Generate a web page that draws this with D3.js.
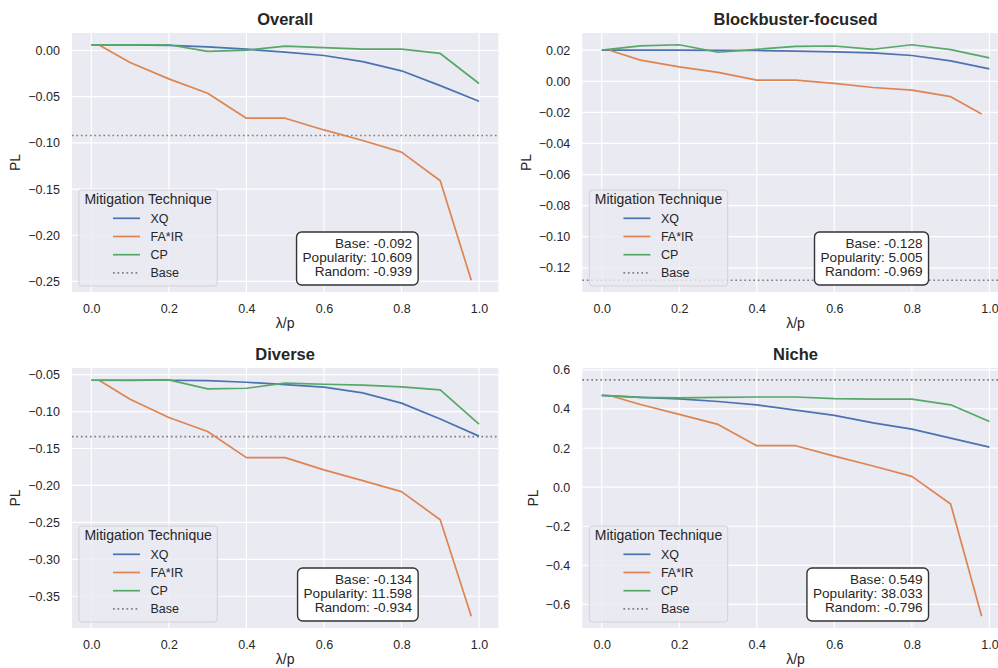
<!DOCTYPE html>
<html>
<head>
<meta charset="utf-8">
<script src="https://cdn.jsdelivr.net/npm/d3@7"></script>
<style>
    body { margin: 0; background: #fff; }
    text { font-family: "Liberation Sans", Arial, sans-serif; fill: #262626; }
</style>
</head>
<body>
<div id="chart"></div>
<script>

// values
const panelNames = ["Overall", "Blockbuster-focused", "Diverse", "Niche"];
const techniques = ["XQ", "FA*IR", "CP"];
const lambdaP = [0, 0.1, 0.2, 0.3, 0.4, 0.5, 0.6, 0.7, 0.8, 0.9, 1.0];
const fairP = [0.02, 0.1, 0.2, 0.3, 0.4, 0.5, 0.6, 0.7, 0.8, 0.9, 0.98];

const xqPL = [
    [0.006, 0.006, 0.0055, 0.004, 0.0014, -0.0018, -0.0054, -0.012, -0.022, -0.038, -0.055],
    [0.020, 0.020, 0.020, 0.0199, 0.0198, 0.0194, 0.0189, 0.0183, 0.0166, 0.0131, 0.008],
    [-0.0576, -0.0576, -0.0576, -0.058, -0.0603, -0.0635, -0.067, -0.0747, -0.0886, -0.110, -0.1332],
    [0.469, 0.459, 0.452, 0.438, 0.421, 0.394, 0.367, 0.329, 0.297, 0.251, 0.205]
];
const fairPL = [
    [0.006, -0.013, -0.0307, -0.0462, -0.0733, -0.0733, -0.086, -0.0974, -0.110, -0.141, -0.2487],
    [0.020, 0.0136, 0.0093, 0.0057, 0.0008, 0.0008, -0.0014, -0.004, -0.0057, -0.0099, -0.021],
    [-0.0576, -0.0832, -0.108, -0.127, -0.1624, -0.1624, -0.179, -0.1935, -0.2083, -0.2465, -0.377],
    [0.469, 0.423, 0.372, 0.321, 0.212, 0.212, 0.159, 0.108, 0.055, -0.086, -0.66]
];
const cpPL = [
    [0.006, 0.006, 0.0062, -0.001, 0.0003, 0.0047, 0.0032, 0.0014, 0.0014, -0.0032, -0.0357],
    [0.020, 0.0228, 0.0235, 0.0187, 0.0206, 0.0225, 0.0227, 0.0206, 0.0235, 0.0204, 0.0151],
    [-0.0576, -0.0578, -0.057, -0.0693, -0.0684, -0.0616, -0.063, -0.0643, -0.0666, -0.0706, -0.117],
    [0.469, 0.459, 0.457, 0.459, 0.461, 0.461, 0.453, 0.450, 0.450, 0.421, 0.336]
];
const basePL = [-0.092, -0.128, -0.134, 0.549];
const popularityPL = [10.609, 5.005, 11.598, 38.033];
const randomPL = [-0.939, -0.969, -0.934, -0.796];

const xTicks = [0, 0.2, 0.4, 0.6, 0.8, 1.0];
const yTicks = [
    [0, -0.05, -0.1, -0.15, -0.2, -0.25],
    [0.02, 0, -0.02, -0.04, -0.06, -0.08, -0.1, -0.12],
    [-0.05, -0.1, -0.15, -0.2, -0.25, -0.3, -0.35],
    [0.6, 0.4, 0.2, 0, -0.2, -0.4, -0.6]
];
const yTickFormat = [".2f", ".2f", ".2f", ".1f"];

const colors = ["#4c72b0", "#dd8452", "#55a868"];
const baseColor = "#808080";

// matplotlib style autoscale: data range plus 5% each side
function padExtent(ext) {
    let m = (ext[1] - ext[0]) * 0.05;
    return [ext[0] - m, ext[1] + m];
}

class PLPanel {

    constructor(svg, index, frame) {
        this.svg = svg;
        this.index = index;
        this.frame = frame;
        this.initVis();
    }

    initVis() {
        let vis = this;
        let i = vis.index;
        vis.width = vis.frame.w;
        vis.height = vis.frame.h;

        vis.g = vis.svg.append("g")
            .attr("transform", "translate(" + vis.frame.x + "," + vis.frame.y + ")");

        vis.series = techniques.map((t, k) => ({
            name: t,
            color: colors[k],
            xs: k === 1 ? fairP : lambdaP,
            ys: [xqPL, fairPL, cpPL][k][i]
        }));

        let allX = lambdaP.concat(fairP);
        let allY = xqPL[i].concat(fairPL[i], cpPL[i], [basePL[i]]);

        vis.x = d3.scaleLinear().domain(padExtent(d3.extent(allX))).range([0, vis.width]);
        vis.y = d3.scaleLinear().domain(padExtent(d3.extent(allY))).range([vis.height, 0]);

        // panel background
        vis.g.append("rect")
            .attr("width", vis.width).attr("height", vis.height)
            .attr("fill", "#eaeaf2");

        // grid
        vis.g.selectAll(".gx").data(xTicks).enter().append("line")
            .attr("x1", d => vis.x(d)).attr("x2", d => vis.x(d))
            .attr("y1", 0).attr("y2", vis.height)
            .attr("stroke", "#fff").attr("stroke-width", 1.2);
        vis.g.selectAll(".gy").data(yTicks[i]).enter().append("line")
            .attr("x1", 0).attr("x2", vis.width)
            .attr("y1", d => vis.y(d)).attr("y2", d => vis.y(d))
            .attr("stroke", "#fff").attr("stroke-width", 1.2);

        // axes (labels only, seaborn darkgrid has no tick marks)
        vis.xAxis = d3.axisBottom(vis.x).tickValues(xTicks).tickSize(0).tickPadding(12)
            .tickFormat(d3.format(".1f"));
        vis.yAxis = d3.axisLeft(vis.y).tickValues(yTicks[i]).tickSize(0).tickPadding(12)
            .tickFormat(d3.format(yTickFormat[i]));

        vis.g.append("g").attr("transform", "translate(0," + vis.height + ")").call(vis.xAxis);
        vis.yg = vis.g.append("g").call(vis.yAxis);
        vis.g.selectAll(".domain").remove();
        vis.g.selectAll(".tick text")
            .attr("font-size", "12.5px")
            .attr("font-family", null)
            .attr("fill", "#2e2e2e");

        let maxTickW = d3.max(vis.yg.selectAll("text").nodes(), n => n.getComputedTextLength());

        // titles and axis labels
        vis.g.append("text").text(panelNames[i])
            .attr("x", vis.width / 2).attr("y", -8)
            .attr("text-anchor", "middle")
            .attr("font-size", "16.5px").attr("font-weight", "bold");

        vis.g.append("text").text("λ/p")
            .attr("x", vis.width / 2).attr("y", vis.height + 36)
            .attr("text-anchor", "middle")
            .attr("font-size", "14px");

        vis.g.append("text").text("PL")
            .attr("transform", "translate(" + (-12 - maxTickW - 8) + "," + (vis.height / 2) + ") rotate(-90)")
            .attr("text-anchor", "middle")
            .attr("font-size", "14px");

        vis.updateVis();
    }

    updateVis() {
        let vis = this;
        let i = vis.index;

        let line = d3.line()
            .x(d => vis.x(d[0]))
            .y(d => vis.y(d[1]));

        // base reference
        vis.g.append("line")
            .attr("x1", 0).attr("x2", vis.width)
            .attr("y1", vis.y(basePL[i])).attr("y2", vis.y(basePL[i]))
            .attr("stroke", baseColor).attr("stroke-width", 1.7)
            .attr("stroke-dasharray", "1.7,2.8");

        vis.g.selectAll(".series").data(vis.series).enter().append("path")
            .attr("class", "series")
            .attr("d", s => line(s.xs.map((x, k) => [x, s.ys[k]])))
            .attr("fill", "none")
            .attr("stroke", s => s.color)
            .attr("stroke-width", 1.7)
            .attr("stroke-linejoin", "round");

        // legend, lower left
        let legend = vis.g.append("g");
        let legBox = legend.append("rect");
        let legTitle = legend.append("text").text("Mitigation Technique")
            .attr("font-size", "14px").attr("text-anchor", "middle");
        let titleW = legTitle.node().getComputedTextLength();
        let legW = titleW + 11, legH = 96;
        let legX = 7, legY = vis.height - 6 - legH;

        legBox.attr("x", legX).attr("y", legY)
            .attr("width", legW).attr("height", legH)
            .attr("rx", 3)
            .attr("fill", "#eaeaf2").attr("fill-opacity", 0.8)
            .attr("stroke", "#cccccc").attr("stroke-opacity", 0.8);
        legTitle.attr("x", legX + legW / 2).attr("y", legY + 13.5);

        let legItems = vis.series.map(s => ({name: s.name, color: s.color, dash: null}))
            .concat([{name: "Base", color: baseColor, dash: "1.7,2.8"}]);

        let rows = legend.selectAll(".legRow").data(legItems).enter().append("g")
            .attr("class", "legRow")
            .attr("transform", (d, k) => "translate(0," + (legY + 28.3 + k * 18.2) + ")");
        let labels = rows.append("text").text(d => d.name)
            .attr("font-size", "12.5px").attr("y", 4.5);
        let labelW = d3.max(labels.nodes(), n => n.getComputedTextLength());
        let blockW = 27 + 10.5 + labelW;
        let blockX = legX + (legW - blockW) / 2;

        rows.append("line")
            .attr("x1", blockX).attr("x2", blockX + 27)
            .attr("stroke", d => d.color).attr("stroke-width", 1.7)
            .attr("stroke-dasharray", d => d.dash);
        labels.attr("x", blockX + 37.5);

        // stats box
        let lines = [
            "Base: " + basePL[i].toFixed(3),
            "Popularity: " + popularityPL[i].toFixed(3),
            "Random: " + randomPL[i].toFixed(3)
        ];
        let boxRight = vis.x(0.843), boxBottom = vis.height - 7;
        let stats = vis.g.append("g");
        let box = stats.append("rect");
        let txt = stats.selectAll(".stat").data(lines).enter().append("text")
            .attr("class", "stat")
            .text(d => d)
            .attr("x", boxRight - 6)
            .attr("y", (d, k) => boxBottom - 9 - (2 - k) * 14.2)
            .attr("text-anchor", "end")
            .attr("font-size", "13.6px");
        let textW = d3.max(txt.nodes(), n => n.getComputedTextLength());
        box.attr("x", boxRight - textW - 12).attr("y", boxBottom - 53)
            .attr("width", textW + 12).attr("height", 53)
            .attr("rx", 5)
            .attr("fill", "#fff")
            .attr("stroke", "#333").attr("stroke-width", 1.4);
    }
}

let svg = d3.select("#chart").append("svg")
    .attr("width", 998).attr("height", 668)
    .style("display", "block");

// panel frames (left, top) in figure pixels
const frameLeft = [71.9, 582.3];
const frameTop = [33, 368];
const frameW = 426.5;
const frameH = [259, 260];

panelNames.forEach((name, i) => {
    let col = i % 2, row = Math.floor(i / 2);
    new PLPanel(svg, i, {x: frameLeft[col], y: frameTop[row], w: frameW, h: frameH[row]});
});

</script>
</body>
</html>
